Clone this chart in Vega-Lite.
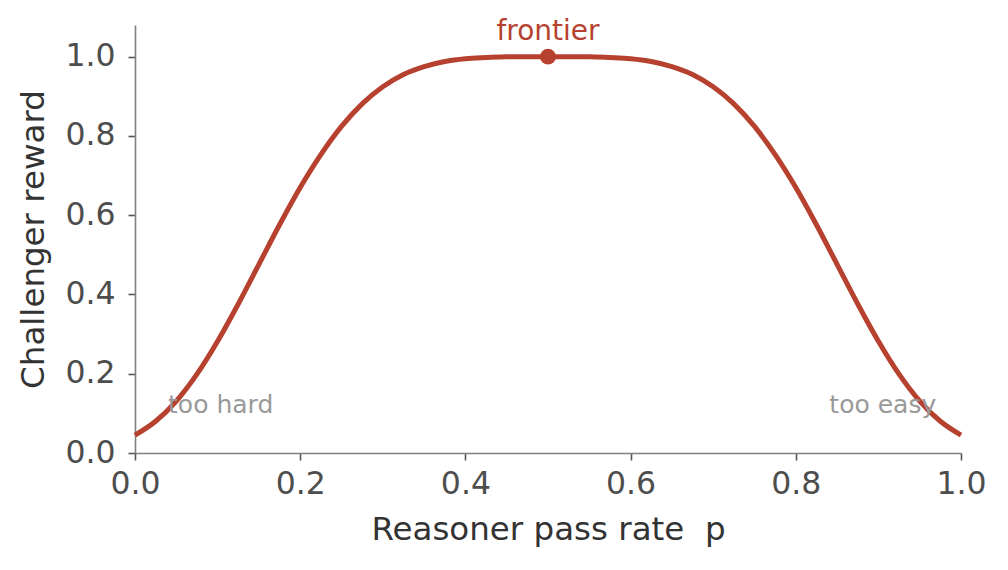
{
  "$schema": "https://vega.github.io/schema/vega-lite/v6.json",
  "autosize": "none",
  "width": 826,
  "height": 428,
  "padding": {"left": 135, "top": 25, "right": 47, "bottom": 117},
  "background": "white",
  "config": {
    "view": {"stroke": null},
    "font": "DejaVu Sans",
    "axis": {
      "grid": false,
      "domainColor": "#808080",
      "domainWidth": 1.6,
      "tickColor": "#555555",
      "tickWidth": 1.6,
      "tickSize": 7,
      "labelFont": "DejaVu Sans",
      "labelFontSize": 31.5,
      "labelColor": "#4d4d4d",
      "labelFlush": false,
      "labelOverlap": false,
      "titleFont": "DejaVu Sans",
      "titleFontSize": 32.5,
      "titleFontWeight": "normal",
      "titleColor": "#333333"
    }
  },
  "datasets": {
    "curve": [
      {"p": 0.0, "r": 0.045},
      {"p": 0.025, "r": 0.08},
      {"p": 0.05, "r": 0.131},
      {"p": 0.075, "r": 0.199},
      {"p": 0.1, "r": 0.282},
      {"p": 0.125, "r": 0.376},
      {"p": 0.15, "r": 0.476},
      {"p": 0.175, "r": 0.576},
      {"p": 0.2, "r": 0.67},
      {"p": 0.225, "r": 0.753},
      {"p": 0.25, "r": 0.824},
      {"p": 0.275, "r": 0.881},
      {"p": 0.3, "r": 0.924},
      {"p": 0.325, "r": 0.955},
      {"p": 0.35, "r": 0.975},
      {"p": 0.375, "r": 0.988},
      {"p": 0.4, "r": 0.995},
      {"p": 0.425, "r": 0.998},
      {"p": 0.45, "r": 1.0},
      {"p": 0.475, "r": 1.0},
      {"p": 0.5, "r": 1.0},
      {"p": 0.525, "r": 1.0},
      {"p": 0.55, "r": 1.0},
      {"p": 0.575, "r": 0.998},
      {"p": 0.6, "r": 0.995},
      {"p": 0.625, "r": 0.988},
      {"p": 0.65, "r": 0.975},
      {"p": 0.675, "r": 0.955},
      {"p": 0.7, "r": 0.924},
      {"p": 0.725, "r": 0.881},
      {"p": 0.75, "r": 0.824},
      {"p": 0.775, "r": 0.753},
      {"p": 0.8, "r": 0.67},
      {"p": 0.825, "r": 0.576},
      {"p": 0.85, "r": 0.476},
      {"p": 0.875, "r": 0.376},
      {"p": 0.9, "r": 0.282},
      {"p": 0.925, "r": 0.199},
      {"p": 0.95, "r": 0.131},
      {"p": 0.975, "r": 0.08},
      {"p": 1.0, "r": 0.045}
    ],
    "peak": [{"p": 0.5, "r": 1.0, "label": "frontier"}],
    "notes": [
      {"p": 0.04, "r": 0.12, "label": "too hard", "side": "left"},
      {"p": 0.97, "r": 0.12, "label": "too easy", "side": "right"}
    ]
  },
  "encoding": {
    "x": {
      "field": "p",
      "type": "quantitative",
      "scale": {"domain": [0, 1], "nice": false, "zero": false},
      "axis": {"values": [0, 0.2, 0.4, 0.6, 0.8, 1.0], "format": ".1f", "title": "Reasoner pass rate\u00a0 p", "labelPadding": 8, "titlePadding": 14}
    },
    "y": {
      "field": "r",
      "type": "quantitative",
      "scale": {"domain": [0, 1.08], "nice": false},
      "axis": {"values": [0, 0.2, 0.4, 0.6, 0.8, 1.0], "format": ".1f", "title": "Challenger reward", "labelPadding": 13, "titlePadding": 14}
    }
  },
  "layer": [
    {
      "data": {"name": "curve"},
      "mark": {"type": "line", "color": "#b6412f", "strokeWidth": 5, "interpolate": "monotone"}
    },
    {
      "data": {"name": "peak"},
      "mark": {"type": "point", "filled": true, "opacity": 1, "color": "#b6412f", "size": 250}
    },
    {
      "data": {"name": "peak"},
      "mark": {"type": "text", "color": "#b6412f", "fontSize": 28, "baseline": "alphabetic", "dy": -17},
      "encoding": {"text": {"field": "label"}}
    },
    {
      "data": {"name": "notes"},
      "transform": [{"filter": "datum.side == 'left'"}],
      "mark": {"type": "text", "color": "#999999", "fontSize": 25, "align": "left", "baseline": "middle"},
      "encoding": {"text": {"field": "label"}}
    },
    {
      "data": {"name": "notes"},
      "transform": [{"filter": "datum.side == 'right'"}],
      "mark": {"type": "text", "color": "#999999", "fontSize": 25, "align": "right", "baseline": "middle"},
      "encoding": {"text": {"field": "label"}}
    }
  ]
}
